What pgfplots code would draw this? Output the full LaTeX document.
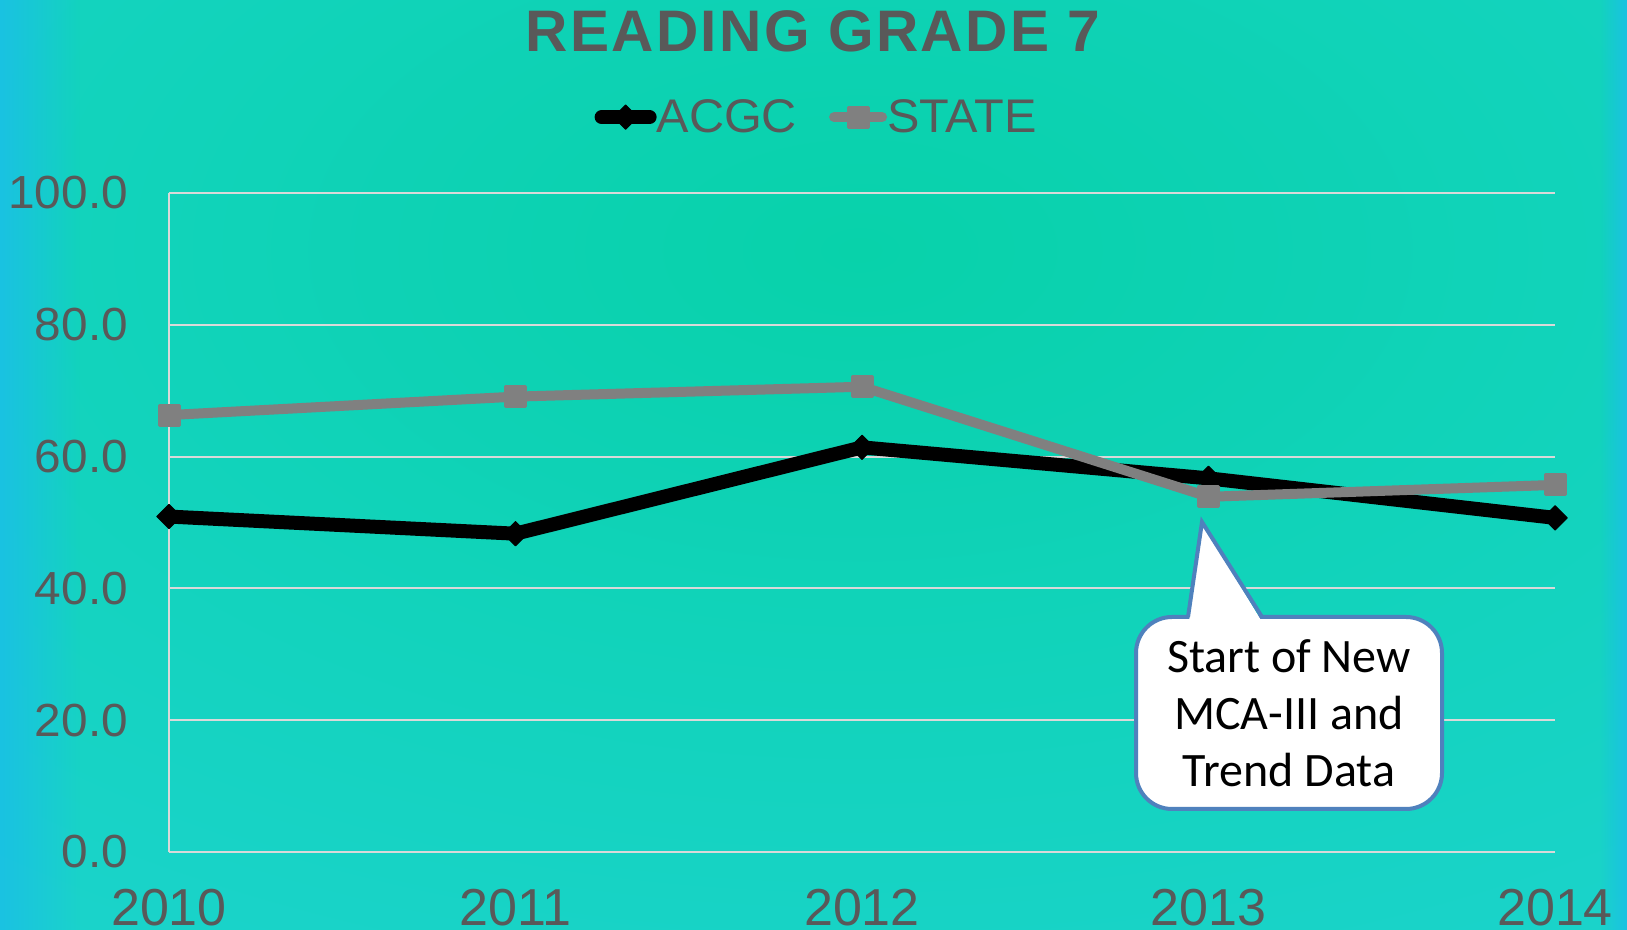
\documentclass[border=0pt]{standalone}
\usepackage{pgfplots}
\pgfplotsset{compat=1.18}
\usetikzlibrary{fadings}
\usepackage{fontspec}
\setmainfont{Liberation Sans}
\newfontfamily\carlito{Carlito}
\newfontfamily\titlefont[LetterSpace=4]{Liberation Sans}
\newfontfamily\legfont[FakeStretch=1.03]{Liberation Sans}
\definecolor{txt}{HTML}{595959}
\definecolor{grd}{HTML}{D9D9D9}
\definecolor{ser2}{HTML}{808080}
\definecolor{cblue}{HTML}{4F81BD}
\definecolor{bgin}{RGB}{8,210,170}
\definecolor{bgout}{RGB}{36,212,220}
\definecolor{edgeblue}{RGB}{26,194,226}
\tikzfading[name=fadeR, left color=transparent!0, right color=transparent!100]
\tikzfading[name=fadeL, left color=transparent!100, right color=transparent!0]
\begin{document}
\begin{tikzpicture}[x=1pt,y=1pt]
\useasboundingbox (0,0) rectangle (813.5,465);
\begin{scope}
\clip (0,0) rectangle (813.5,465);
\fill[bgout] (0,0) rectangle (813.5,465);
\shade[inner color=bgin, outer color=bgout] (430,340) ellipse (1100 and 620);
\fill[edgeblue, path fading=fadeR] (0,0) rectangle (40,465);
\fill[edgeblue, path fading=fadeL] (800,0) rectangle (813.5,465);
\end{scope}
\begin{axis}[
  at={(84.5pt,39pt)}, anchor=south west, scale only axis,
  width=693pt, height=329.5pt,
  xmin=2010, xmax=2014, ymin=0, ymax=100,
  xtick={2010,2011,2012,2013,2014}, ytick={0,20,40,60,80,100},
  axis lines=left, axis line style={-, draw=grd, line width=1pt},
  ymajorgrids, grid style={draw=grd, line width=1pt},
  major tick length=0pt,
  clip=false,
  /pgf/number format/assume math mode=true,
  xticklabel style={/pgf/number format/1000 sep={}, font=\fontsize{26}{26}\selectfont, text=txt, yshift=-15pt},
  yticklabel style={/pgf/number format/fixed, /pgf/number format/fixed zerofill, /pgf/number format/precision=1, font=\legfont\fontsize{23.2}{23.2}\selectfont, text=txt, xshift=-17pt},
  legend columns=2,
  legend style={at={(0.4665,1.115)}, anchor=center, draw=none, fill=none,
    font=\legfont\fontsize{23.6}{23.6}\selectfont, text=txt, nodes={inner xsep=0pt},
    /tikz/every even column/.append style={column sep=16pt}},
  legend image code/.code={\draw[mark repeat=2,mark phase=2, line cap=round] plot coordinates {(3pt,0pt) (15pt,0pt) (27pt,0pt)};},
]
\addplot[black, line width=7pt, line join=round, mark=square*, mark size=4.3pt,
  mark options={rotate=45, fill=black, line width=0.5pt, solid}]
  coordinates {(2010,50.9) (2011,48.3) (2012,61.4) (2013,56.7) (2014,50.7)};
\addlegendentry{ACGC}
\addplot[ser2, line width=5pt, line join=round, mark=square*, mark size=5pt,
  mark options={fill=ser2, line width=1.5pt, line join=round, solid}]
  coordinates {(2010,66.3) (2011,69.1) (2012,70.6) (2013,53.9) (2014,55.7)};
\addlegendentry{STATE}
\end{axis}
\node[anchor=base, text=txt, font=\titlefont\bfseries\fontsize{29.3}{29.3}\selectfont] at (406.5,439) {READING GRADE 7};
\draw[cblue, line width=2pt, fill=white, rounded corners=18pt] (568,60.5) rectangle (721,156.5);
\fill[white] (594.6,155) -- (601,204) -- (630.4,155) -- cycle;
\draw[cblue, line width=2pt, line join=miter] (594,156.5) -- (601,204) -- (631,156.5);
\node[align=center, font=\carlito\fontsize{24}{28.5}\selectfont] at (644.5,108.5) {Start of New\\MCA-III and\\Trend Data};
\end{tikzpicture}
\end{document}
